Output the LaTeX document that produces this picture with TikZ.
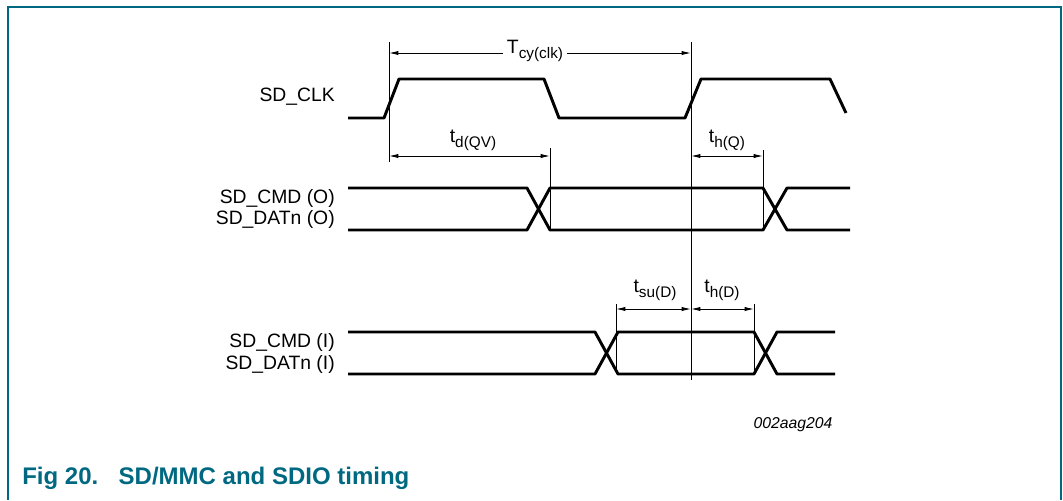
\documentclass[tikz,border=0pt]{standalone}
\usepackage{fontspec}
\setmainfont{Liberation Sans}
\usetikzlibrary{arrows.meta}
\definecolor{nxpteal}{RGB}{0,104,128}
\newcommand\sbs[1]{\raisebox{-0.5ex}{\fontsize{11.5pt}{12pt}\selectfont #1}}
\begin{document}
\begin{tikzpicture}[x=0.75pt,y=-0.75pt,
  sig/.style={line width=2.2pt,line join=round},
  refl/.style={line width=0.7pt},
  dim/.style={line width=0.7pt,{Latex[length=7pt,width=3.2pt]}-{Latex[length=7pt,width=3.2pt]}},
  lab/.style={font=\fontsize{14.5pt}{16pt}\selectfont,anchor=east,inner sep=0pt},
  tlab/.style={font=\fontsize{14.5pt}{16pt}\selectfont,inner sep=1pt}]
\useasboundingbox (0,0) rectangle (1063,500);
% frame
\draw[nxpteal,line width=1.5pt] (8,500)--(8,7)--(1061,7)--(1061,500);
% reference lines
\coordinate (A1) at (389,42); \coordinate (A2) at (389,162);
\coordinate (B1) at (691,42); \coordinate (B2) at (691,380);
\coordinate (C1) at (550,148); \coordinate (C2) at (550,230);
\coordinate (D1) at (763,150); \coordinate (D2) at (763,230);
\coordinate (E1) at (616,304); \coordinate (E2) at (616,374);
\coordinate (F1) at (754,304); \coordinate (F2) at (754,374);
\foreach \p in {A,B,C,D,E,F} \draw[refl] (\p1)--(\p2);
% dimension arrows
\coordinate (tA) at (389,53); \coordinate (tB) at (691,53);
\draw[dim] (tA)--(tB);
\node[tlab,fill=white,inner xsep=3pt] (tcy) at (535,51) {T\sbs{cy(clk)}};
\coordinate (dA) at (389,156); \coordinate (dC) at (550,156);
\draw[dim] (dA)--(dC);
\node[tlab] (tdqv) at (473,140) {t\sbs{d(QV)}};
\coordinate (hB) at (691,156); \coordinate (hD) at (763,156);
\draw[dim] (hB)--(hD);
\node[tlab] (thq) at (727,140) {t\sbs{h(Q)}};
\coordinate (sE) at (616,309); \coordinate (sB) at (691,309); \coordinate (sF) at (754,309);
\draw[dim] (sE)--(sB);
\draw[dim] (sB)--(sF);
\node[tlab] (tsu) at (655,290) {t\sbs{su(D)}};
\node[tlab] (thd) at (722,290) {t\sbs{h(D)}};
% clock
\draw[sig] (348,118)--(384,118)--(399,79)--(544,79)--(559,118)--(685,118)--(701,79)--(830,79)--(846,113);
% output data
\draw[sig] (348,188)--(527,188)--(550,230)--(763,230)--(787,188)--(850,188);
\draw[sig] (348,230)--(527,230)--(550,188)--(763,188)--(787,230)--(850,230);
% input data
\draw[sig] (348,332)--(595,332)--(618,374)--(754,374)--(777,332)--(835,332);
\draw[sig] (348,374)--(595,374)--(618,332)--(754,332)--(777,374)--(835,374);
% labels
\node[lab] (lclk) at (335,97) {SD\_CLK};
\node[lab] (lcmdo) at (335,198) {SD\_CMD (O)};
\node[lab] (ldato) at (335,219) {SD\_DATn (O)};
\node[lab] (lcmdi) at (335,342) {SD\_CMD (I)};
\node[lab] (ldati) at (335,364) {SD\_DATn (I)};
\node[font=\itshape\fontsize{11.8pt}{13pt}\selectfont] (code) at (793,425) {002aag204};
\node[anchor=base west,inner sep=0pt,text=nxpteal,font=\bfseries\fontsize{18pt}{21pt}\selectfont] (cap) at (22,484) {Fig 20.\hspace{0.85em}SD/MMC and SDIO timing};
\end{tikzpicture}
\end{document}
